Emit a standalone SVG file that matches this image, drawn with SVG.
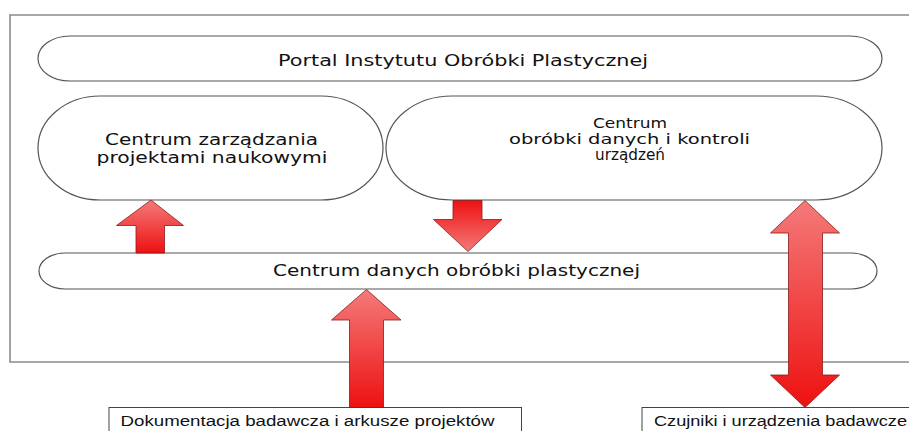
<svg xmlns="http://www.w3.org/2000/svg" width="909" height="431" viewBox="0 0 909 431">
<style>
.node{fill:#fff;stroke:#555;stroke-width:1.2}
.frame{fill:none;stroke:#8a8a8a;stroke-width:1.6}
.box{fill:#fff;stroke:#444;stroke-width:1}
.t{font-family:"DejaVu Sans",Verdana,sans-serif;fill:#111;text-anchor:middle}
.b{font-family:"Liberation Sans",Arial,sans-serif;fill:#111;font-size:14px}
.arrow{stroke:#8a1a1a;stroke-width:0.8}
</style>
<defs>
<linearGradient id="gUp" x1="0" y1="0" x2="0" y2="1">
<stop offset="0" stop-color="#f47a7a"/>
<stop offset="1" stop-color="#ee1111"/>
</linearGradient>
<linearGradient id="gDown" x1="0" y1="0" x2="0" y2="1">
<stop offset="0" stop-color="#ee1111"/>
<stop offset="1" stop-color="#f47a7a"/>
</linearGradient>
</defs>
<rect width="909" height="431" fill="#fff"/>
<path class="frame" d="M915,15 L10,15 L10,362 L915,362"/>

<g id="portal">
<rect class="node" x="38" y="36" width="844" height="45" rx="32" ry="22.5"/>
<text class="t" x="463" y="66" font-size="16" textLength="370" lengthAdjust="spacingAndGlyphs">Portal Instytutu Obróbki Plastycznej</text>
</g>
<g id="centrum-zarzadzania">
<rect class="node" x="38" y="96" width="345" height="104" rx="62" ry="52"/>
<text class="t" x="211.5" y="145" font-size="15.5" textLength="213" lengthAdjust="spacingAndGlyphs">Centrum zarządzania</text>
<text class="t" x="212" y="163" font-size="15.5" textLength="231" lengthAdjust="spacingAndGlyphs">projektami naukowymi</text>
</g>
<g id="centrum-obrobki">
<rect class="node" x="386" y="96" width="496" height="104" rx="66" ry="52"/>
<text class="t" x="630" y="128" font-size="14.5" textLength="74" lengthAdjust="spacingAndGlyphs">Centrum</text>
<text class="t" x="629.5" y="144" font-size="14.5" textLength="241" lengthAdjust="spacingAndGlyphs">obróbki danych i kontroli</text>
<text class="t" x="630" y="160" font-size="15" textLength="70" lengthAdjust="spacingAndGlyphs">urządzeń</text>
</g>
<g id="centrum-danych">
<rect class="node" x="39" y="253" width="838" height="36" rx="26" ry="18"/>
<text class="t" x="456.5" y="276" font-size="15" textLength="367" lengthAdjust="spacingAndGlyphs">Centrum danych obróbki plastycznej</text>
</g>
<g id="dokumentacja">
<rect class="box" x="109" y="407.5" width="412.5" height="30"/>
<text class="b" x="120.5" y="426" textLength="374" lengthAdjust="spacingAndGlyphs">Dokumentacja badawcza i arkusze projektów</text>
</g>
<g id="czujniki">
<rect class="box" x="642" y="407.5" width="280" height="30"/>
<text class="b" x="654" y="426" textLength="253" lengthAdjust="spacingAndGlyphs">Czujniki i urządzenia badawcze</text>
</g>

<g id="connectors">
<path class="arrow" fill="url(#gUp)" d="M151,200 L183.5,225.5 L164.5,225.5 L164.5,253 L136,253 L136,225.5 L116.5,225.5 Z"/>
<path class="arrow" fill="url(#gDown)" d="M453,200.5 L482,200.5 L482,219.5 L502,219.5 L468,251.5 L433.5,219.5 L453,219.5 Z"/>
<path class="arrow" fill="url(#gUp)" d="M366.5,289.5 L401,320 L383.5,320 L383.5,407.5 L349.5,407.5 L349.5,320 L331.5,320 Z"/>
<path class="arrow" fill="url(#gUp)" d="M805,200.5 L839.5,233 L822.5,233 L822.5,375 L839.5,375 L805,407.5 L770.5,375 L788.5,375 L788.5,233 L770.5,233 Z"/>
</g>
</svg>
